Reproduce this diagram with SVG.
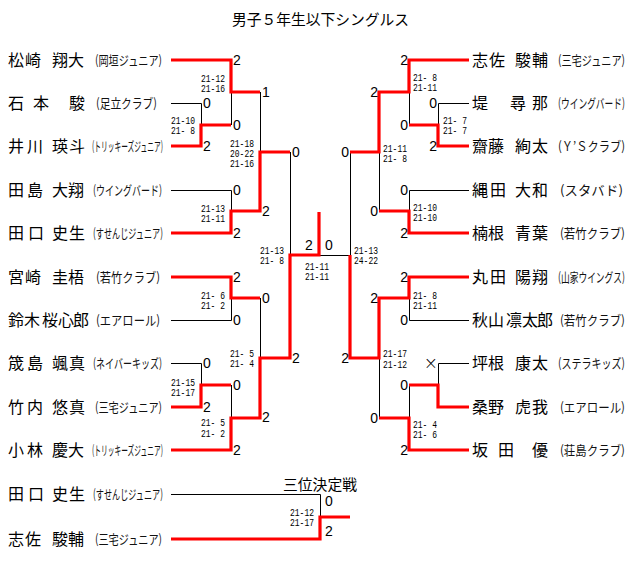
<svg xmlns="http://www.w3.org/2000/svg" width="640" height="585" viewBox="0 0 640 585">
<style>
.t{font-family:"Noto Sans CJK JP",sans-serif;font-size:15px;fill:#000}
.n{font-family:"Noto Sans CJK JP",sans-serif;font-size:16px;fill:#000}
.c{font-family:"Noto Sans CJK JP",sans-serif;font-size:13px;fill:#111}
.d{font-family:"Liberation Sans",sans-serif;font-size:14px;fill:#000}
.de{font-family:"Liberation Sans",sans-serif;font-size:14px;fill:#000;text-anchor:end}
.x{font-family:"DejaVu Sans",sans-serif;font-size:17px;font-weight:200;fill:#000;text-anchor:end}
.s{font-family:"Liberation Mono",monospace;font-size:10px;fill:#000}
.k{stroke:#000;stroke-width:1;fill:none}
.r{stroke:#f00;stroke-width:3.2;fill:none;stroke-linejoin:miter}
</style>
<rect width="640" height="585" fill="#fff"/>
<text class="t" x="232" y="25" textLength="177" lengthAdjust="spacingAndGlyphs">男子５年生以下シングルス</text>
<text class="t" x="283" y="490" textLength="74" lengthAdjust="spacingAndGlyphs">三位決定戦</text>

<g id="connectors">
<g class="k">
<path d="M171,103.5H201.5V125"/>
<path d="M231.5,92V125"/>
<path d="M260.5,92V152"/>
<path d="M171,190.5H231.5V211"/>
<path d="M290.5,152V255"/>
<path d="M171,320.5H231.5V298"/>
<path d="M260.5,298V358"/>
<path d="M171,363.5H201.5V385"/>
<path d="M231.5,385V418"/>
<path d="M319,255.5H350"/>
<path d="M469,103.5H438.5V125"/>
<path d="M409.5,92V125"/>
<path d="M379.5,152V211"/>
<path d="M469,190.5H409.5V211"/>
<path d="M350.5,152V255"/>
<path d="M469,320.5H409.5V298"/>
<path d="M379.5,358V418"/>
<path d="M469,363.5H438.5V385"/>
<path d="M409.5,385V418"/>
<path d="M171,494.5H320.5V517"/>
</g>
<g class="r">
<path d="M171,60H231V92H260"/>
<path d="M171,146H201V125H231"/>
<path d="M171,233H231V211H260V152H290"/>
<path d="M171,277H231V298H260"/>
<path d="M171,407H201V385H231"/>
<path d="M171,450H231V418H260V358H290V255H319V212"/>
<path d="M469,60H409V92H379V152H350"/>
<path d="M469,146H438V125H409"/>
<path d="M469,233H409V211H379"/>
<path d="M469,277H409V298H379V358H350V255"/>
<path d="M469,407H438V385H409"/>
<path d="M469,450H409V418H379"/>
<path d="M171,539H320V517H350"/>
</g>
</g>

<g id="p-matsuzaki"><text class="n" x="8 25 52 68" y="66">松崎翔大</text><text class="c" x="95" y="65" textLength="67" lengthAdjust="spacingAndGlyphs">(岡垣ジュニア)</text></g>
<g id="p-ishimoto"><text class="n" x="8 33 69" y="109">石本駿</text><text class="c" x="96" y="108" textLength="61" lengthAdjust="spacingAndGlyphs">(足立クラブ)</text></g>
<g id="p-ikawa"><text class="n" x="8 27 52 69" y="152">井川瑛斗</text><text class="c" x="92" y="151" textLength="71" lengthAdjust="spacingAndGlyphs">(トリッキーズジュニア)</text></g>
<g id="p-tajima"><text class="n" x="8 27 52 68" y="196">田島大翔</text><text class="c" x="93" y="195" textLength="69" lengthAdjust="spacingAndGlyphs">(ウイングバード)</text></g>
<g id="p-taguchi"><text class="n" x="8 28 52 69" y="239">田口史生</text><text class="c" x="93" y="238" textLength="70" lengthAdjust="spacingAndGlyphs">(すせんじジュニア)</text></g>
<g id="p-miyazaki"><text class="n" x="8 25 52 68" y="283">宮崎圭梧</text><text class="c" x="96" y="282" textLength="64" lengthAdjust="spacingAndGlyphs">(若竹クラブ)</text></g>
<g id="p-suzuki"><text class="n" x="8 24 42 58 73" y="326">鈴木桜心郎</text><text class="c" x="96" y="325" textLength="64" lengthAdjust="spacingAndGlyphs">(エアロール)</text></g>
<g id="p-osajima"><text class="n" x="8 27 52 69" y="369">筬島颯真</text><text class="c" x="93" y="368" textLength="69" lengthAdjust="spacingAndGlyphs">(ネイバーキッズ)</text></g>
<g id="p-takeuchi"><text class="n" x="8 27 52 69" y="413">竹内悠真</text><text class="c" x="95" y="412" textLength="67" lengthAdjust="spacingAndGlyphs">(三宅ジュニア)</text></g>
<g id="p-kobayashi"><text class="n" x="8 27 52 68" y="456">小林慶大</text><text class="c" x="92" y="455" textLength="71" lengthAdjust="spacingAndGlyphs">(トリッキーズジュニア)</text></g>

<g id="p-shisa"><text class="n" x="472 489 515 532" y="66">志佐駿輔</text><text class="c" x="558" y="65" textLength="67" lengthAdjust="spacingAndGlyphs">(三宅ジュニア)</text></g>
<g id="p-tsutsumi"><text class="n" x="472 510 532" y="109">堤尋那</text><text class="c" x="558" y="108" textLength="67" lengthAdjust="spacingAndGlyphs">(ウイングバード)</text></g>
<g id="p-saito"><text class="n" x="472 488 515 532" y="152">齋藤絢太</text><text class="c" x="558" y="151" textLength="67" lengthAdjust="spacingAndGlyphs">(Ｙ’Ｓクラブ)</text></g>
<g id="p-nawata"><text class="n" x="472 490 515 532" y="196">縄田大和</text><text class="c" x="560" y="195" textLength="63" lengthAdjust="spacingAndGlyphs">(スタバド)</text></g>
<g id="p-kusune"><text class="n" x="472 488 515 532" y="239">楠根青葉</text><text class="c" x="560" y="238" textLength="65" lengthAdjust="spacingAndGlyphs">(若竹クラブ)</text></g>
<g id="p-maruta"><text class="n" x="472 490 515 532" y="283">丸田陽翔</text><text class="c" x="558" y="282" textLength="67" lengthAdjust="spacingAndGlyphs">(山家ウイングス)</text></g>
<g id="p-akiyama"><text class="n" x="472 488 506 522 537" y="326">秋山凛太郎</text><text class="c" x="560" y="325" textLength="65" lengthAdjust="spacingAndGlyphs">(若竹クラブ)</text></g>
<g id="p-tsubone"><text class="n" x="472 488 515 532" y="369">坪根康太</text><text class="c" x="558" y="368" textLength="67" lengthAdjust="spacingAndGlyphs">(ステラキッズ)</text></g>
<g id="p-kuwano"><text class="n" x="472 488 515 532" y="413">桑野虎我</text><text class="c" x="560" y="412" textLength="65" lengthAdjust="spacingAndGlyphs">(エアロール)</text></g>
<g id="p-sakata"><text class="n" x="472 498 532" y="456">坂田優</text><text class="c" x="560" y="455" textLength="65" lengthAdjust="spacingAndGlyphs">(荘島クラブ)</text></g>

<g id="p3-taguchi"><text class="n" x="8 28 52 69" y="500">田口史生</text><text class="c" x="93" y="499" textLength="70" lengthAdjust="spacingAndGlyphs">(すせんじジュニア)</text></g>
<g id="p3-shisa"><text class="n" x="8 25 52 68" y="545">志佐駿輔</text><text class="c" x="95" y="544" textLength="67" lengthAdjust="spacingAndGlyphs">(三宅ジュニア)</text></g>

<g id="games">
<text class="d" x="203" y="108">0</text><text class="d" x="203" y="151">2</text>
<text class="d" x="203" y="368">0</text><text class="d" x="203" y="412">2</text>
<text class="d" x="233" y="65">2</text><text class="d" x="233" y="130">0</text>
<text class="d" x="233" y="195">0</text><text class="d" x="233" y="238">2</text>
<text class="d" x="233" y="282">2</text><text class="d" x="233" y="325">0</text>
<text class="d" x="233" y="390">0</text><text class="d" x="233" y="455">2</text>
<text class="d" x="262" y="97">1</text><text class="d" x="262" y="216">2</text>
<text class="d" x="262" y="303">0</text><text class="d" x="262" y="422">2</text>
<text class="d" x="292" y="157">0</text><text class="d" x="292" y="363">2</text>
<text class="d" x="305" y="250">2</text><text class="d" x="325" y="250">0</text>
<text class="de" x="437" y="108">0</text><text class="de" x="437" y="151">2</text>
<text class="x" x="438" y="369">×</text>
<text class="de" x="408" y="65">2</text><text class="de" x="408" y="130">0</text>
<text class="de" x="408" y="195">0</text><text class="de" x="408" y="238">2</text>
<text class="de" x="408" y="282">2</text><text class="de" x="408" y="325">0</text>
<text class="de" x="408" y="390">0</text><text class="de" x="408" y="455">2</text>
<text class="de" x="378" y="97">2</text><text class="de" x="378" y="216">0</text>
<text class="de" x="378" y="303">2</text><text class="de" x="378" y="423">0</text>
<text class="de" x="349" y="157">0</text><text class="de" x="349" y="363">2</text>
<text class="d" x="325" y="506">0</text><text class="d" x="325" y="536">2</text>
</g>

<g id="scores" xml:space="preserve">
<text class="s" x="201" y="81.5" textLength="24" lengthAdjust="spacingAndGlyphs">21-12</text>
<text class="s" x="201" y="91.5" textLength="24" lengthAdjust="spacingAndGlyphs">21-16</text>
<text class="s" x="171" y="124" textLength="24" lengthAdjust="spacingAndGlyphs">21-10</text>
<text class="s" x="171" y="134" textLength="24" lengthAdjust="spacingAndGlyphs">21- 8</text>
<text class="s" x="230" y="146.5" textLength="24" lengthAdjust="spacingAndGlyphs">21-18</text>
<text class="s" x="230" y="156.5" textLength="24" lengthAdjust="spacingAndGlyphs">20-22</text>
<text class="s" x="230" y="166.5" textLength="24" lengthAdjust="spacingAndGlyphs">21-16</text>
<text class="s" x="201" y="212" textLength="24" lengthAdjust="spacingAndGlyphs">21-13</text>
<text class="s" x="201" y="222" textLength="24" lengthAdjust="spacingAndGlyphs">21-11</text>
<text class="s" x="260" y="253.5" textLength="24" lengthAdjust="spacingAndGlyphs">21-13</text>
<text class="s" x="260" y="263.5" textLength="24" lengthAdjust="spacingAndGlyphs">21- 8</text>
<text class="s" x="201" y="298.5" textLength="24" lengthAdjust="spacingAndGlyphs">21- 6</text>
<text class="s" x="201" y="308.5" textLength="24" lengthAdjust="spacingAndGlyphs">21- 2</text>
<text class="s" x="230" y="357" textLength="24" lengthAdjust="spacingAndGlyphs">21- 5</text>
<text class="s" x="230" y="367" textLength="24" lengthAdjust="spacingAndGlyphs">21- 4</text>
<text class="s" x="171" y="385.5" textLength="24" lengthAdjust="spacingAndGlyphs">21-15</text>
<text class="s" x="171" y="395.5" textLength="24" lengthAdjust="spacingAndGlyphs">21-17</text>
<text class="s" x="201" y="426" textLength="24" lengthAdjust="spacingAndGlyphs">21- 5</text>
<text class="s" x="201" y="436.5" textLength="24" lengthAdjust="spacingAndGlyphs">21- 2</text>
<text class="s" x="305" y="269.5" textLength="24" lengthAdjust="spacingAndGlyphs">21-11</text>
<text class="s" x="305" y="279.5" textLength="24" lengthAdjust="spacingAndGlyphs">21-11</text>
<text class="s" x="413" y="80.5" textLength="24" lengthAdjust="spacingAndGlyphs">21- 8</text>
<text class="s" x="413" y="90.5" textLength="24" lengthAdjust="spacingAndGlyphs">21-11</text>
<text class="s" x="443" y="124" textLength="24" lengthAdjust="spacingAndGlyphs">21- 7</text>
<text class="s" x="443" y="134" textLength="24" lengthAdjust="spacingAndGlyphs">21- 7</text>
<text class="s" x="383" y="152" textLength="24" lengthAdjust="spacingAndGlyphs">21-11</text>
<text class="s" x="383" y="162" textLength="24" lengthAdjust="spacingAndGlyphs">21- 8</text>
<text class="s" x="413" y="211" textLength="24" lengthAdjust="spacingAndGlyphs">21-10</text>
<text class="s" x="413" y="221" textLength="24" lengthAdjust="spacingAndGlyphs">21-10</text>
<text class="s" x="354" y="254" textLength="24" lengthAdjust="spacingAndGlyphs">21-13</text>
<text class="s" x="354" y="264" textLength="24" lengthAdjust="spacingAndGlyphs">24-22</text>
<text class="s" x="413" y="298.5" textLength="24" lengthAdjust="spacingAndGlyphs">21- 8</text>
<text class="s" x="413" y="308.5" textLength="24" lengthAdjust="spacingAndGlyphs">21-11</text>
<text class="s" x="383" y="357" textLength="24" lengthAdjust="spacingAndGlyphs">21-17</text>
<text class="s" x="383" y="367.5" textLength="24" lengthAdjust="spacingAndGlyphs">21-12</text>
<text class="s" x="413" y="427.5" textLength="24" lengthAdjust="spacingAndGlyphs">21- 4</text>
<text class="s" x="413" y="437.5" textLength="24" lengthAdjust="spacingAndGlyphs">21- 6</text>
<text class="s" x="290" y="515.5" textLength="24" lengthAdjust="spacingAndGlyphs">21-12</text>
<text class="s" x="290" y="525.5" textLength="24" lengthAdjust="spacingAndGlyphs">21-17</text>
</g>
</svg>
